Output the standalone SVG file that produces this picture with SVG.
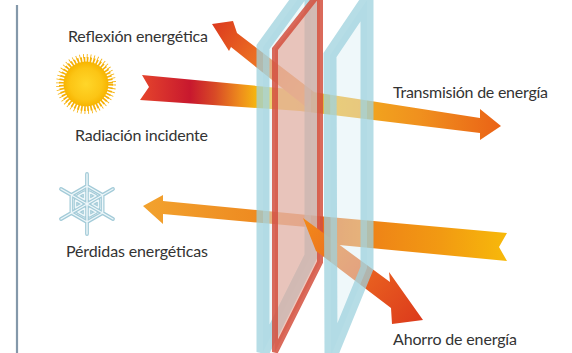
<svg xmlns="http://www.w3.org/2000/svg" xmlns:xlink="http://www.w3.org/1999/xlink" width="572" height="353" viewBox="0 0 572 353">
  <style>
    .label { font-family: Lato, "Liberation Sans", "DejaVu Sans", sans-serif; font-size: 16px; fill: #333333; }
    .paneBlue { fill: #dcf0f5; fill-opacity: 0.45; stroke: #9ed2de; stroke-width: 13; stroke-opacity: 0.75; stroke-linejoin: miter; }
    .paneRed { fill: #e4a594; fill-opacity: 0.62; stroke: #d4503e; stroke-width: 6; stroke-opacity: 0.85; stroke-linejoin: miter; }
    .flakeOuter { fill: none; stroke: #a3cbd8; stroke-width: 3.8; stroke-linecap: round; stroke-linejoin: round; }
    .flakeInner { fill: none; stroke: #eef7fa; stroke-width: 1.4; stroke-linecap: round; stroke-linejoin: round; }
  </style>
  <defs>
    <linearGradient id="gIncoming" gradientUnits="userSpaceOnUse" x1="140" y1="0" x2="501" y2="0">
      <stop offset="0" stop-color="#e5452c"/>
      <stop offset="0.139" stop-color="#c8182e"/>
      <stop offset="0.208" stop-color="#d84a26"/>
      <stop offset="0.277" stop-color="#ee8c1c"/>
      <stop offset="0.338" stop-color="#f8c40c"/>
      <stop offset="0.443" stop-color="#f6bc14"/>
      <stop offset="0.609" stop-color="#f2a81e"/>
      <stop offset="0.776" stop-color="#f0901e"/>
      <stop offset="1" stop-color="#ea6216"/>
    </linearGradient>
    <linearGradient id="gReflect" gradientUnits="userSpaceOnUse" x1="310" y1="100" x2="212" y2="24">
      <stop offset="0" stop-color="#f29a2a"/>
      <stop offset="0.6" stop-color="#ea6a22"/>
      <stop offset="1" stop-color="#dc3a1e"/>
    </linearGradient>
    <linearGradient id="gLoss" gradientUnits="userSpaceOnUse" x1="507" y1="0" x2="143" y2="0">
      <stop offset="0" stop-color="#f7b90a"/>
      <stop offset="0.18" stop-color="#f29a12"/>
      <stop offset="0.4" stop-color="#ee8018"/>
      <stop offset="0.51" stop-color="#ea6c1c"/>
      <stop offset="0.68" stop-color="#ee8a20"/>
      <stop offset="1" stop-color="#f2a22e"/>
    </linearGradient>
    <linearGradient id="gSave" gradientUnits="userSpaceOnUse" x1="303" y1="218" x2="423" y2="320">
      <stop offset="0" stop-color="#f28a1a"/>
      <stop offset="0.5" stop-color="#ea6420"/>
      <stop offset="1" stop-color="#dc3a1c"/>
    </linearGradient>
    <radialGradient id="gSun" cx="0.5" cy="0.5" r="0.5">
      <stop offset="0" stop-color="#ffd629"/>
      <stop offset="0.7" stop-color="#fcc515"/>
      <stop offset="1" stop-color="#f7b400"/>
    </radialGradient>
    <path id="tri" d="M11.5,-3.8 L11.5,3.8 L5,0 Z"/>
    <g id="flake">
      <path d="M0,-30 V30 M-26,-15 L26,15 M-26,15 L26,-15 M0,-18 L15.6,-9 L15.6,9 L0,18 L-15.6,9 L-15.6,-9 Z"/>
      <use xlink:href="#tri"/>
      <use xlink:href="#tri" transform="rotate(60)"/>
      <use xlink:href="#tri" transform="rotate(120)"/>
      <use xlink:href="#tri" transform="rotate(180)"/>
      <use xlink:href="#tri" transform="rotate(240)"/>
      <use xlink:href="#tri" transform="rotate(300)"/>
    </g>
  </defs>

  <rect width="572" height="353" fill="#ffffff"/>

  <!-- left margin rule -->
  <line x1="17" y1="5" x2="17" y2="353" stroke="#8498aa" stroke-width="2.2"/>

  <!-- sun: 48 tapered rays built from two dashed rings -->
  <g id="sun">
    <circle cx="86" cy="84" r="24" fill="none" stroke="#f6b006" stroke-width="6" stroke-dasharray="1.7 1.442"/>
    <circle cx="86" cy="84" r="28" fill="none" stroke="#f6b006" stroke-width="4" stroke-dasharray="0.8 2.865" stroke-dashoffset="-0.592"/>
    <circle cx="86" cy="84" r="22.5" fill="url(#gSun)"/>
  </g>

  <!-- snowflake -->
  <g id="snowflake" transform="translate(87 204)">
    <use xlink:href="#flake" class="flakeOuter"/>
    <use xlink:href="#flake" class="flakeInner"/>
  </g>

  <!-- energy flows behind the glazing -->
  <g id="connectors">
    <path id="incoming" d="M142,75 L300,90 L480,118 L480,109 L501,126 L480,140 L480,133 L300,111 L140,100 L149,87 Z" fill="url(#gIncoming)"/>
    <path id="reflection" d="M212,24 L233,21 L237,33 L314,92 L306,107 L231,47 L229,51 Z" fill="url(#gReflect)"/>
    <path id="loss" d="M143,206 L163,195 L163,201 L318,216 L507,233 L499,247 L507,261 L318,243 L318,228 L163,214 L163,224 Z" fill="url(#gLoss)"/>
  </g>

  <!-- outer glass pane and coated interlayer -->
  <g id="paneOuter">
    <path class="paneBlue" d="M263,47 L311,-19 L311,256 L263,352 Z"/>
  </g>
  <g id="paneCoated">
    <path class="paneRed" d="M275,49 L320,-8 L320,262 L275,352 Z"/>
  </g>

  <!-- heat kept indoors -->
  <g id="connectorsSaving">
    <path id="saving" d="M303,218 L390,282 L389,272 L423,320 L392,324 L391,308 L316,251 Z" fill="url(#gSave)"/>
  </g>

  <!-- inner glass pane -->
  <g id="paneInner">
    <path class="paneBlue" d="M330,55 L367,0 L367,268 L331,356 Z"/>
  </g>

  <!-- labels -->
  <g id="labels">
    <text class="label" x="68" y="42" textLength="140" lengthAdjust="spacing">Reflexión energética</text>
    <text class="label" x="75" y="141" textLength="133" lengthAdjust="spacing">Radiación incidente</text>
    <text class="label" x="393" y="98" textLength="155" lengthAdjust="spacing">Transmisión de energía</text>
    <text class="label" x="66" y="257" textLength="142" lengthAdjust="spacing">Pérdidas energéticas</text>
    <text class="label" x="393" y="345" textLength="124" lengthAdjust="spacing">Ahorro de energía</text>
  </g>
</svg>
